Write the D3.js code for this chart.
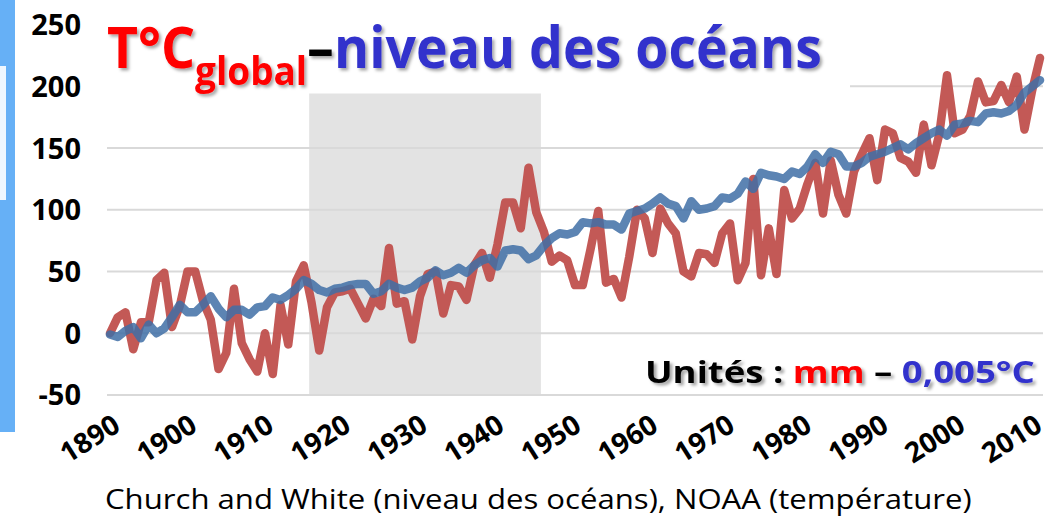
<!DOCTYPE html>
<html><head><meta charset="utf-8">
<script src="https://cdn.jsdelivr.net/npm/d3@7"></script>
<style>html,body{margin:0;padding:0;background:#fff;overflow:hidden}svg{display:block}</style>
</head><body>
<svg id="chart" width="1051" height="519"></svg>
<script>
// ---- data ----
const years = d3.range(1890, 2011);
const temperature = [
  0,13,17,-13,9,9,43,49,5,22,
  50,50,26,11,-29,-16,36,-8,-21,-31,
  0,-33,23,-9,42,55,25,-14,21,33,
  34,36,24,12,28,22,69,24,26,-5,
  30,48,50,16,39,38,27,55,65,45,
  72,106,106,85,134,98,82,58,63,59,
  39,39,68,99,41,44,29,62,100,93,
  65,101,89,81,50,46,65,64,57,81,
  89,43,57,125,47,85,48,116,93,101,
  121,138,97,140,112,97,131,145,158,124,
  165,162,142,139,130,169,136,161,209,162,
  165,176,204,187,188,201,187,208,165,197,
  223];
const seaLevel = [
  -1,-3,2,5,-4,7,0,4,13,23,
  17,17,23,30,20,13,19,19,15,21,
  22,29,27,31,36,43,40,35,33,36,
  37,39,40,40,32,34,40,37,35,37,
  42,45,51,47,49,53,49,55,59,61,
  54,67,68,67,60,63,71,77,81,80,
  82,90,89,90,88,88,84,97,99,101,
  105,110,105,103,93,107,100,101,103,110,
  109,113,123,117,130,128,127,125,131,129,
  135,145,138,147,145,135,135,138,143,145,
  147,150,153,149,154,158,162,165,160,169,
  170,172,171,178,179,178,180,185,195,200,
  205];
const yTicks = [-50, 0, 50, 100, 150, 200, 250];
const gridValues = [-50, 0, 50, 100, 150, 200];
const xTicks = [1890,1900,1910,1920,1930,1940,1950,1960,1970,1980,1990,2000,2010];
const shadedPeriod = [1915.7, 1945.6];
const titleParts = [
  {text: "T°C", color: "#ff0000", sub: false},
  {text: "global", color: "#ff0000", sub: true},
  {text: "–", color: "#000000", sub: false},
  {text: "niveau des océans", color: "#3333cc", sub: false}
];
const unitParts = [
  {text: "Unités : ", color: "#000000"},
  {text: "mm", color: "#ff0000"},
  {text: " – ", color: "#000000"},
  {text: "0,005°C", color: "#3333cc"}
];
const sourceText = "Church and White (niveau des océans), NOAA (température)";

// ---- chart ----
const svg = d3.select("#chart");
const FONT = "'Open Sans', 'Noto Sans', sans-serif";

const x = d3.scaleLinear().domain([1890, 2010]).range([110, 1040]);
const y = d3.scaleLinear().domain([-50, 250]).range([395.0, 24.6]);
// tick labels sit on a slightly different category band than the data
const xLab = d3.scaleLinear().domain([1890, 2010]).range([122, 1044]);

const defs = svg.append("defs");
const f = defs.append("filter").attr("id","shadow").attr("x","-5%").attr("y","-20%").attr("width","115%").attr("height","150%");
f.append("feDropShadow").attr("dx",2.5).attr("dy",2.5).attr("stdDeviation",1.5).attr("flood-color","#000").attr("flood-opacity",0.35);

// left blue strip
svg.append("rect").attr("x",0).attr("y",0).attr("width",15).attr("height",432).attr("fill","#66b0f6");
svg.append("rect").attr("x",0).attr("y",66).attr("width",6).attr("height",134).attr("fill","#eef7ff");

// shaded period
svg.append("rect")
  .attr("x", x(shadedPeriod[0])).attr("width", x(shadedPeriod[1]) - x(shadedPeriod[0]))
  .attr("y", y(250)).attr("height", y(-50) - y(250))
  .attr("fill", "#e3e3e3");

// grid
svg.append("g").selectAll("line").data(gridValues).join("line")
  .attr("x1", 107).attr("x2", 1043)
  .attr("y1", d => y(d)).attr("y2", d => y(d))
  .attr("stroke", "#d9d9d9").attr("stroke-width", 2);

// lines
const line = d3.line().x((d,i) => x(years[i])).y(d => y(d));
svg.append("path").datum(temperature).attr("d", line)
  .attr("fill","none").attr("stroke","#c0504d").attr("stroke-width",8.5)
  .attr("stroke-linejoin","round").attr("stroke-linecap","round").attr("opacity",0.95);
svg.append("path").datum(seaLevel).attr("d", line)
  .attr("fill","none").attr("stroke","#3f6fa6").attr("stroke-width",8.5)
  .attr("stroke-linejoin","round").attr("stroke-linecap","round").attr("opacity",0.85);

// title white box (covers top of shading & grid)
svg.append("rect").attr("x",100).attr("y",0).attr("width",750).attr("height",93.5).attr("fill","#fff");

// y labels
svg.append("g").selectAll("text").data(yTicks).join("text")
  .attr("x", 81).attr("y", d => y(d)).attr("dy","0.36em")
  .attr("text-anchor","end").attr("font-family",FONT).attr("font-weight",700)
  .attr("font-size",29).attr("fill","#000").text(d => d);

// x labels
svg.append("g").selectAll("text").data(xTicks).join("text")
  .attr("transform", d => `translate(${xLab(d)},430) rotate(-32)`)
  .attr("text-anchor","end").attr("font-family",FONT).attr("font-weight",700)
  .attr("font-size",28).attr("fill","#000").text(d => d);

// title
function fitGroup(g, x0, targetW){
  const bb = g.node().getBBox();
  const s = targetW / bb.width;
  g.attr("transform", `translate(${x0},0) scale(${s},1) translate(${-bb.x},0)`);
}
const tg = svg.append("g").attr("filter","url(#shadow)");
const tt = tg.append("text").attr("x",0).attr("y",68).attr("font-family",FONT).attr("font-weight",700).attr("font-size",58);
let prevSub = false;
titleParts.forEach(p => {
  const ts = tt.append("tspan").attr("fill",p.color).text(p.text);
  if (p.sub) { ts.attr("font-size",40).attr("dy",17); prevSub = true; }
  else if (prevSub) { ts.attr("dy",-17); prevSub = false; }
});
fitGroup(tg, 107, 715);

// units
const ug = svg.append("g").attr("filter","url(#shadow)");
const ut = ug.append("text").attr("x",0).attr("y",383).attr("font-family",FONT).attr("font-weight",700).attr("font-size",31);
unitParts.forEach(p => ut.append("tspan").attr("fill",p.color).text(p.text));
fitGroup(ug, 645, 390);

// source
const sg = svg.append("g");
sg.append("text").attr("x",0).attr("y",509).attr("font-family",FONT).attr("font-size",28).attr("fill","#000").text(sourceText);
fitGroup(sg, 105, 867);
</script>
</body></html>
